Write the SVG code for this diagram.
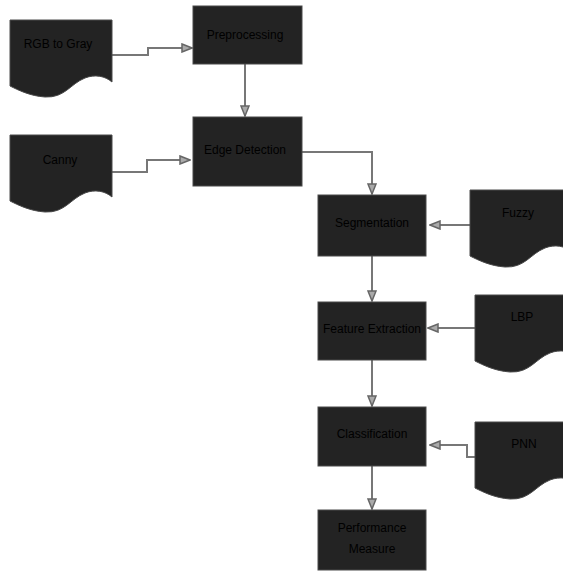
<svg xmlns="http://www.w3.org/2000/svg" width="563" height="572" viewBox="0 0 563 572">
<style>
.box{fill:#232323;stroke:#4a4a4a;stroke-width:1}
.doc{fill:#232323;stroke:#4a4a4a;stroke-width:1}
.lbl{font-family:"Liberation Sans",Arial,sans-serif;font-size:12px;fill:#000;text-anchor:middle;dominant-baseline:middle}
.conn{fill:none;stroke:#777;stroke-width:2}
</style>
<defs>
<marker id="arr" viewBox="0 0 12 10" refX="11" refY="5" markerWidth="12" markerHeight="10" markerUnits="userSpaceOnUse" orient="auto">
<path d="M1,1 L11,5 L1,9 Z" fill="#aaa" stroke="#666" stroke-width="1.5"/>
</marker>
<path id="docshape" d="M0,0 H102 V62 C95,56 85,54 75,58 C60,64 55,78 35,77 C20,76 8,70 0,66 Z"/>
</defs>
<rect width="563" height="572" fill="#fff"/>
<g id="connectors">
<path class="conn" d="M112,55 H148 V48 H192" marker-end="url(#arr)"/>
<path class="conn" d="M245,64 V116" marker-end="url(#arr)"/>
<path class="conn" d="M112,172 H147 V160 H190" marker-end="url(#arr)"/>
<path class="conn" d="M302,152 H372 V194" marker-end="url(#arr)"/>
<path class="conn" d="M470,225 H430" marker-end="url(#arr)"/>
<path class="conn" d="M372,256 V301" marker-end="url(#arr)"/>
<path class="conn" d="M475,328 H428" marker-end="url(#arr)"/>
<path class="conn" d="M372,360 V406" marker-end="url(#arr)"/>
<path class="conn" d="M475,457 H467 V445 H430" marker-end="url(#arr)"/>
<path class="conn" d="M372,466 V509" marker-end="url(#arr)"/>
</g>
<g id="rgb2gray">
<use href="#docshape" class="doc" transform="translate(10,20)"/>
<text class="lbl" x="58" y="45">RGB to Gray</text>
</g>
<g id="canny">
<use href="#docshape" class="doc" transform="translate(10,135)"/>
<text class="lbl" x="60" y="161">Canny</text>
</g>
<g id="fuzzy">
<use href="#docshape" class="doc" transform="translate(470,190)"/>
<text class="lbl" x="518" y="214">Fuzzy</text>
</g>
<g id="lbp">
<use href="#docshape" class="doc" transform="translate(475,295)"/>
<text class="lbl" x="522" y="318">LBP</text>
</g>
<g id="pnn">
<use href="#docshape" class="doc" transform="translate(475,422)"/>
<text class="lbl" x="524" y="445">PNN</text>
</g>
<g id="preprocessing">
<rect class="box" x="193" y="6" width="109" height="58"/>
<text class="lbl" x="245" y="36">Preprocessing</text>
</g>
<g id="edge">
<rect class="box" x="193" y="117" width="109" height="69"/>
<text class="lbl" x="245" y="151">Edge Detection</text>
</g>
<g id="segmentation">
<rect class="box" x="318" y="195" width="108" height="61"/>
<text class="lbl" x="372" y="224">Segmentation</text>
</g>
<g id="feature">
<rect class="box" x="318" y="302" width="108" height="58"/>
<text class="lbl" x="372" y="330">Feature Extraction</text>
</g>
<g id="classification">
<rect class="box" x="318" y="407" width="108" height="59"/>
<text class="lbl" x="372" y="435">Classification</text>
</g>
<g id="performance">
<rect class="box" x="318" y="510" width="108" height="60"/>
<text class="lbl" x="372" y="529">Performance</text>
<text class="lbl" x="372" y="550">Measure</text>
</g>
</svg>
